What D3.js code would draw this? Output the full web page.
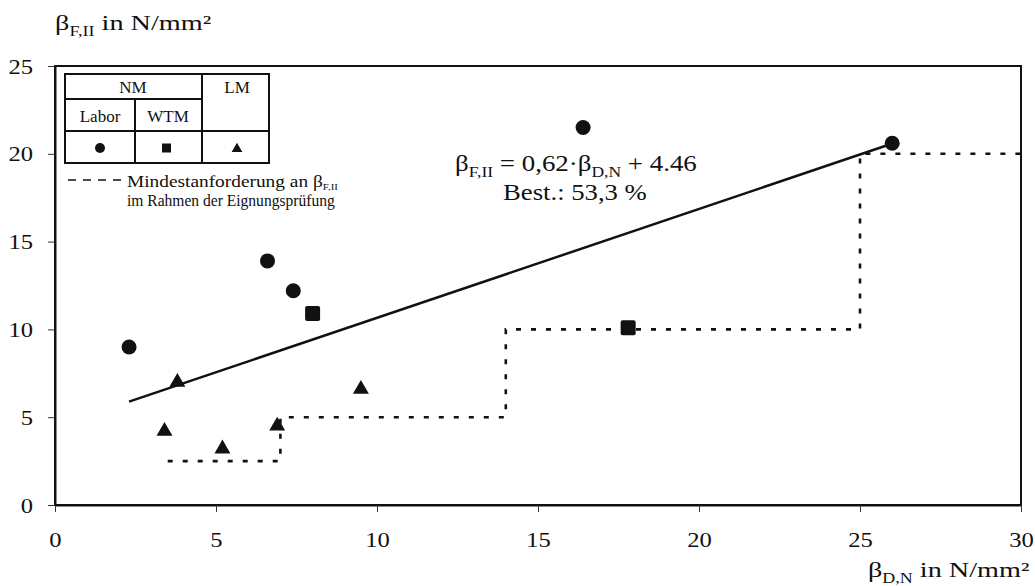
<!DOCTYPE html>
<html><head><meta charset="utf-8">
<script src="https://cdn.jsdelivr.net/npm/d3@7/dist/d3.min.js"></script>
</head><body style="margin:0;background:#fff"><svg id="c" width="1035" height="586"></svg>
<script>
const xTicks = [0,5,10,15,20,25,30];
const yTicks = [0,5,10,15,20,25];
const labor = [[2.3,9.0],[6.6,13.9],[7.4,12.2],[16.4,21.5],[26.0,20.6]];
const wtm = [[8.0,10.9],[17.8,10.1]];
const lm = [[3.8,7.0],[3.4,4.2],[5.2,3.2],[6.9,4.5],[9.5,6.6]];
const minReq = [[3.5,2.5],[7,2.5],[7,5],[14,5],[14,10],[25,10],[25,20],[30,20]];
const fitSlope = 0.62, fitIntercept = 4.46, fitRange = [2.3,25.8];

const FF = "Liberation Serif";
const svg = d3.select("#c").attr("font-family",FF);
const L=55, R=1021, T=66, B=505;
const x = d3.scaleLinear().domain([0,30]).range([L,R]);
const y = d3.scaleLinear().domain([0,25]).range([B,T]);

function fit(sel, left, w){
  const bb = sel.node().getBBox();
  const k = w/bb.width;
  sel.attr("transform",`translate(${left},0) scale(${k},1) translate(${-bb.x},0)`);
}

svg.append("rect").attr("x",L).attr("y",T).attr("width",R-L).attr("height",B-T)
  .attr("fill","none").attr("stroke","#111").attr("stroke-width",2);

const sx = 1.12;
const xa = svg.append("g").attr("transform",`translate(0,${B})`)
  .call(d3.axisBottom(x).tickValues(xTicks).tickSize(7).tickSizeOuter(0));
const ya = svg.append("g").attr("transform",`translate(${L},0)`)
  .call(d3.axisLeft(y).tickValues(yTicks).tickSize(7).tickSizeOuter(0));
[xa,ya].forEach(a=>{
  a.attr("font-family",FF).attr("font-size",22);
  a.select(".domain").attr("stroke","#111").attr("stroke-width",2);
  a.selectAll(".tick line").attr("stroke","#333").attr("stroke-width",1);
  a.selectAll(".tick text").attr("font-family",FF).attr("font-size",22).attr("fill","#111")
    .attr("transform",`scale(${sx},1)`);
});
xa.selectAll(".tick text").attr("y",42).attr("dy",0).attr("x",0);
ya.selectAll(".tick text").attr("x",-22/sx).attr("dy",7).attr("y",0);

svg.append("path").datum(minReq)
  .attr("d",d3.line().x(d=>x(d[0])).y(d=>y(d[1])))
  .attr("fill","none").attr("stroke","#111").attr("stroke-width",2.6)
  .attr("stroke-dasharray","5,10");

svg.append("line")
  .attr("x1",x(fitRange[0])).attr("y1",y(fitSlope*fitRange[0]+fitIntercept))
  .attr("x2",x(fitRange[1])).attr("y2",y(fitSlope*fitRange[1]+fitIntercept))
  .attr("stroke","#111").attr("stroke-width",2.5);

const sym = svg.append("g").attr("fill","#111");
sym.selectAll(".c").data(labor).join("circle")
  .attr("cx",d=>x(d[0])).attr("cy",d=>y(d[1])).attr("r",7.5);
sym.selectAll(".s").data(wtm).join("rect")
  .attr("x",d=>x(d[0])-7.5).attr("y",d=>y(d[1])-7.5).attr("width",15).attr("height",15).attr("rx",2);
const tri = d3.symbol().type(d3.symbolTriangle).size(110);
sym.selectAll(".t").data(lm).join("path")
  .attr("d",tri).attr("transform",d=>`translate(${x(d[0])},${y(d[1])})`);

// legend table
const lg = svg.append("g").attr("stroke","#111").attr("fill","none").attr("stroke-width",2);
lg.append("rect").attr("x",65).attr("y",74).attr("width",204).attr("height",89);
lg.append("line").attr("x1",65).attr("x2",202).attr("y1",99).attr("y2",99);
lg.append("line").attr("x1",65).attr("x2",269).attr("y1",131).attr("y2",131);
lg.append("line").attr("x1",135).attr("x2",135).attr("y1",99).attr("y2",163);
lg.append("line").attr("x1",202).attr("x2",202).attr("y1",74).attr("y2",163);
const lt = svg.append("g").attr("font-family",FF).attr("font-size",17).attr("fill","#111").attr("text-anchor","middle");
lt.append("text").attr("x",133).attr("y",93).text("NM");
lt.append("text").attr("x",237).attr("y",93).text("LM");
lt.append("text").attr("x",100).attr("y",122).text("Labor");
lt.append("text").attr("x",168).attr("y",122).text("WTM");
svg.append("circle").attr("cx",100).attr("cy",148).attr("r",5).attr("fill","#111");
svg.append("rect").attr("x",162).attr("y",143.5).attr("width",9).attr("height",9).attr("fill","#111");
svg.append("path").attr("d",d3.symbol().type(d3.symbolTriangle).size(50)).attr("transform","translate(237,149)").attr("fill","#111");
svg.append("line").attr("x1",68).attr("x2",122).attr("y1",180).attr("y2",180)
  .attr("stroke","#111").attr("stroke-width",1.5).attr("stroke-dasharray","8,7");
const l2 = svg.append("g").attr("font-family",FF).attr("font-size",16).attr("fill","#111");
const t1 = l2.append("text").attr("x",127).attr("y",187);
t1.append("tspan").text("Mindestanforderung an β");
t1.append("tspan").attr("font-size",9).attr("dy",3).text("F,II");
const t2 = l2.append("text").attr("x",127).attr("y",206).text("im Rahmen der Eignungsprüfung");
fit(t1,127,211);
fit(t2,127,208);

// equation
const eq = svg.append("text").attr("x",455).attr("y",171).attr("font-family",FF).attr("font-size",23).attr("fill","#111");
eq.append("tspan").text("β");
eq.append("tspan").attr("font-size",15).attr("dy",6).text("F,II");
eq.append("tspan").attr("dy",-6).text(" = 0,62·β");
eq.append("tspan").attr("font-size",15).attr("dy",6).text("D,N");
eq.append("tspan").attr("dy",-6).text(" + 4.46");
fit(eq,455,242);
const best = svg.append("text").attr("x",503).attr("y",200).attr("font-family",FF).attr("font-size",23).attr("fill","#111").text("Best.: 53,3 %");
fit(best,503,144);

// axis titles
const yt = svg.append("text").attr("x",55).attr("y",30).attr("font-family",FF).attr("font-size",22).attr("fill","#111");
yt.append("tspan").text("β");
yt.append("tspan").attr("font-size",14).attr("dy",6).text("F,II");
yt.append("tspan").attr("dy",-6).text(" in N/mm²");
fit(yt,55,157);
const xt = svg.append("text").attr("x",868).attr("y",577).attr("font-family",FF).attr("font-size",22).attr("fill","#111");
xt.append("tspan").text("β");
xt.append("tspan").attr("font-size",14).attr("dy",6).text("D,N");
xt.append("tspan").attr("dy",-6).text(" in N/mm²");
fit(xt,868,162);
</script></body></html>
